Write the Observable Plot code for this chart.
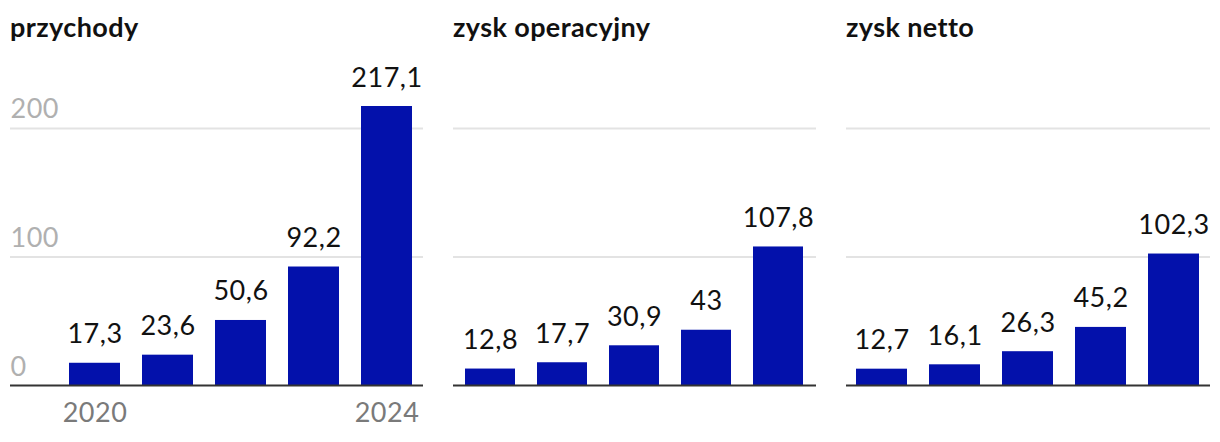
<!DOCTYPE html>
<html><head><meta charset="utf-8">
<script src="https://cdn.jsdelivr.net/npm/d3@7"></script>
<script src="https://cdn.jsdelivr.net/npm/@observablehq/plot@0.6"></script>
<style>
body{margin:0;background:#fff;font-family:Lato,sans-serif;}
#root{position:relative;width:1220px;height:442px;overflow:hidden;}
.panel{position:absolute;top:50px;}
.panel svg text{letter-spacing:0.5px;}
.title{position:absolute;top:11px;font-family:Lato,sans-serif;font-weight:bold;font-size:27px;line-height:1.2;color:#111;white-space:nowrap;letter-spacing:0.4px;}
</style></head><body><div id="root"></div>
<script>
const years = [2020, 2021, 2022, 2023, 2024];
const przychody = [17.3, 23.6, 50.6, 92.2, 217.1];
const zyskOperacyjny = [12.8, 17.7, 30.9, 43, 107.8];
const zyskNetto = [12.7, 16.1, 26.3, 45.2, 102.3];
const titles = ["przychody", "zysk operacyjny", "zysk netto"];
const yTicks = [0, 100, 200];
const yearTicks = [2020, 2024];

const barColor = "#0311ab";
const fmt = v => String(v).replace(".", ",");
const root = document.getElementById("root");

const panels = [
  {values: przychody, title: titles[0], left: 0, width: 433, inset: 49, axis: true},
  {values: zyskOperacyjny, title: titles[1], left: 443, width: 383, inset: 0, axis: false},
  {values: zyskNetto, title: titles[2], left: 836, width: 384, inset: 0, axis: false}
];

for (const p of panels) {
  const data = years.map((year, i) => ({year, value: p.values[i]}));
  const marks = [
    Plot.ruleY(yTicks.filter(d => d > 0), {stroke: "#e3e3e3", strokeWidth: 2}),
    Plot.barY(data, {x: "year", y: "value", fill: barColor}),
    Plot.ruleY([0], {stroke: "#333", strokeWidth: 2}),
    Plot.text(data, {x: "year", y: "value", text: d => fmt(d.value), lineAnchor: "bottom", dy: -20, fontSize: 27, fill: "#111"})
  ];
  if (p.axis) {
    marks.push(Plot.text(yTicks, {y: d => d, text: d => String(d), frameAnchor: "left", textAnchor: "start", lineAnchor: "bottom", dy: -10, fontSize: 27, fill: "#b0b0b0"}));
    marks.push(Plot.text(yearTicks, {x: d => d, text: d => String(d), frameAnchor: "bottom", lineAnchor: "bottom", dy: 36, fontSize: 27, fill: "#7a7a7a"}));
  }
  const chart = Plot.plot({
    width: p.width,
    height: 392,
    marginLeft: 10,
    marginRight: 10,
    marginTop: 56,
    marginBottom: 57,
    x: {type: "band", domain: years, insetLeft: p.inset, paddingInner: 0.3, paddingOuter: 0.14, axis: null},
    y: {domain: [0, 217.1], axis: null},
    style: {fontFamily: "Lato, sans-serif", overflow: "visible", background: "transparent"},
    marks
  });
  const wrap = document.createElement("div");
  wrap.className = "panel";
  wrap.style.left = p.left + "px";
  wrap.appendChild(chart);
  root.appendChild(wrap);
  const t = document.createElement("div");
  t.className = "title";
  t.style.left = (p.left + 10) + "px";
  t.textContent = p.title;
  root.appendChild(t);
}
</script>
</body></html>
